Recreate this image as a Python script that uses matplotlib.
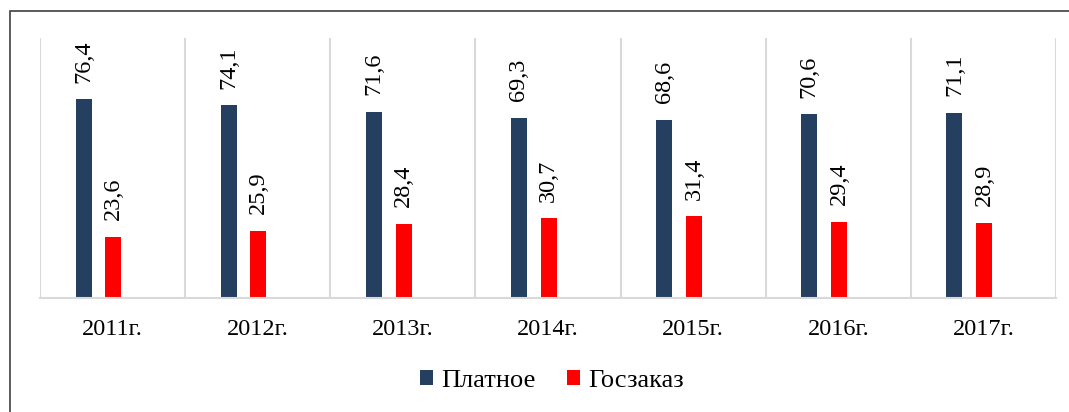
import numpy as np
import matplotlib.pyplot as plt
from matplotlib.patches import Rectangle

years = ['2011г.', '2012г.', '2013г.', '2014г.', '2015г.', '2016г.', '2017г.']
paid = [76.4, 74.1, 71.6, 69.3, 68.6, 70.6, 71.1]
state = [23.6, 25.9, 28.4, 30.7, 31.4, 29.4, 28.9]

plt.rcParams['font.family'] = ['Liberation Serif', 'DejaVu Serif']

W, H = 1069, 412
fig = plt.figure(figsize=(W / 100, H / 100), dpi=100)
ax = fig.add_axes([40 / W, 1 - 298 / H, (1056 - 40) / W, (298 - 38) / H])

x = np.arange(len(years))
bw = 0.11
b1 = ax.bar(x - 0.2, paid, bw, color='#243F60', label='Платное')
b2 = ax.bar(x + 0.005, state, bw, color='#FF0000', label='Госзаказ')

for bars in (b1, b2):
    for r in bars:
        v = r.get_height()
        ax.annotate(f'{v:.1f}'.replace('.', ','), (r.get_x() + r.get_width() / 2, v),
                    xytext=(0, 12), textcoords='offset points', rotation=90,
                    ha='center', va='bottom', fontsize=17.5)

ax.set_xlim(-0.5, len(years) - 0.5)
ax.set_ylim(0, 100)
ax.set_yticks([])
ax.set_xticks(x)
ax.set_xticklabels(years, fontsize=17.5)
ax.tick_params(axis='x', length=0, pad=15)
for xv in np.arange(-0.5, len(years), 1.0):
    ax.axvline(xv, color='#D9D9D9', lw=1.5, zorder=0)
for s in ['top', 'left', 'right']:
    ax.spines[s].set_visible(False)
ax.spines['bottom'].set_color('#D9D9D9')
ax.spines['bottom'].set_linewidth(1.5)

ax.legend(loc='center', bbox_to_anchor=(552 / W, 1 - 381 / H), bbox_transform=fig.transFigure,
          ncol=2, frameon=False, fontsize=19, handlelength=0.5, handleheight=0.5,
          handletextpad=0.3, columnspacing=1.2)

fig.add_artist(Rectangle((10 / W, -0.1), 1.2, 1 - 11 / H + 0.1, transform=fig.transFigure,
                         fill=False, edgecolor='#404040', lw=1.2))

fig.savefig('out.png', dpi=100)
